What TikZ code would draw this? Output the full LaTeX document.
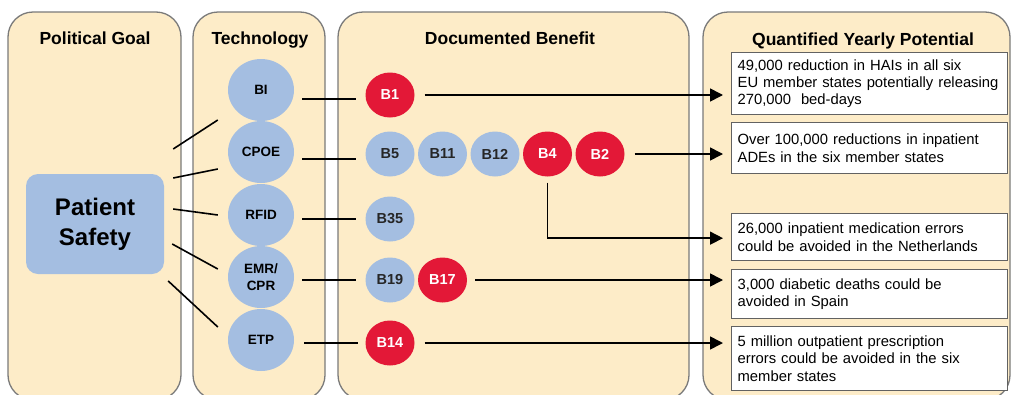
\documentclass[tikz,border=0pt]{standalone}
\usepackage{fontspec}
\setmainfont{Liberation Sans}
\usetikzlibrary{shapes.geometric,arrows.meta,calc}

\definecolor{panelbeige}{HTML}{FDECC8}
\definecolor{techblue}{HTML}{A4BEE1}
\definecolor{benefitred}{HTML}{E31837}
\definecolor{panelgray}{HTML}{7A7A7A}

\begin{document}
\begin{tikzpicture}[x = 1pt, y = -1pt,
		panel/.style = {draw = panelgray, line width = 1.3pt, fill = panelbeige, rounded corners = 25pt},
		paneltitle/.style = {anchor = base, font = \fontsize{17.5}{20}\selectfont\bfseries},
		goalbox/.style = {fill = techblue, rounded corners = 12pt, minimum width = 138pt, minimum height = 100pt, align = center, font = \fontsize{24}{30}\selectfont\bfseries},
		techcircle/.style = {ellipse, fill = techblue, minimum width = 66pt, minimum height = 62pt, inner sep = 0pt, align = center, font = \fontsize{13.5}{17}\selectfont\bfseries},
		bluebenefit/.style = {ellipse, fill = techblue, text = black!85, minimum width = 49pt, minimum height = 45pt, inner sep = 0pt, font = \fontsize{14.5}{16}\selectfont\bfseries},
		redbenefit/.style = {bluebenefit, fill = benefitred, text = white},
		potential/.style = {draw = panelgray!80!black, line width = 1.3pt, fill = white, anchor = north west, text width = 264pt, inner xsep = 6pt, inner ysep = 0pt, align = left, font = \fontsize{14.8}{17.3}\selectfont},
		link/.style = {line width = 1.6pt},
		arrow/.style = {link, -{Triangle[length = 13pt, width = 13pt]}}
	]
			\useasboundingbox (0,0) rectangle (1012,394);
			\clip (0,0) rectangle (1012,394);
			% columnes
			\draw[panel] (8,12) rectangle (181,400);
			\draw[panel] (193,12) rectangle (325,400);
			\draw[panel] (338,12) rectangle (689,400);
			\draw[panel] (703,12) rectangle (1010,400);
			\node[paneltitle] (goaltitle) at (95,44) {Political Goal};
			\node[paneltitle] (techtitle) at (260,44) {Technology};
			\node[paneltitle] (benefittitle) at (510,44) {Documented Benefit};
			\node[paneltitle] (potentialtitle) at (863,45) {Quantified Yearly Potential};
			% goal
			\node[goalbox] (ps) at (95,224) {Patient\\Safety};
			% technology
			\node[techcircle] (bi) at (261,90) {BI};
			\node[techcircle] (cpoe) at (261,152) {CPOE};
			\node[techcircle] (rfid) at (261,215) {RFID};
			\node[techcircle] (emr) at (261,277) {EMR/\\CPR};
			\node[techcircle] (etp) at (261,340) {ETP};
			% benefits
			\node[redbenefit] (b1) at (390,95) {B1};
			\node[bluebenefit] (b5) at (390,154) {B5};
			\node[bluebenefit] (b11) at (442.5,154) {B11};
			\node[bluebenefit] (b12) at (495,154) {B12};
			\node[redbenefit] (b4) at (547.5,154) {B4};
			\node[redbenefit] (b2) at (600,154) {B2};
			\node[bluebenefit] (b35) at (390,219) {B35};
			\node[bluebenefit] (b19) at (390,280) {B19};
			\node[redbenefit] (b17) at (442.5,280) {B17};
			\node[redbenefit] (b14) at (390,343) {B14};
			% potential
			\node[potential, minimum height = 62pt] (q1) at (731,52) {49,000 reduction in HAIs in all six\\EU member states potentially releasing\\270,000~~bed-days};
			\node[potential, minimum height = 51pt] (q2) at (731,122) {Over 100,000 reductions in inpatient\\ADEs in the six member states};
			\node[potential, minimum height = 47pt] (q3) at (731,213) {26,000 inpatient medication errors\\could be avoided in the Netherlands};
			\node[potential, minimum height = 49pt] (q4) at (731,269) {3,000 diabetic deaths could be\\avoided in Spain};
			\node[potential, minimum height = 64pt] (q5) at (731,326) {5 million outpatient prescription\\errors could be avoided in the six\\member states};
			% goal a technology
			\draw[link] ($(ps.east)+(9,-75)$) -- ($(bi.west)+(-10,30)$);
			\draw[link] ($(ps.east)+(9,-46)$) -- ($(cpoe.west)+(-10,17)$);
			\draw[link] ($(ps.east)+(9,-15)$) -- ($(rfid.west)+(-10,0)$);
			\draw[link] ($(ps.east)+(8,20)$) -- ($(emr.west)+(-10,-8)$);
			\draw[link] ($(ps.east)+(4,57)$) -- ($(etp.west)+(-10,-13)$);
			% technology a benefit
			\draw[link] ($(bi.east |- b1)+(8,4)$) -- ($(b1.west)+(-9,4)$);
			\draw[link] ($(cpoe.east |- b5)+(8,5)$) -- ($(b5.west)+(-9,5)$);
			\draw[link] ($(rfid.east |- b35)+(8,0)$) -- ($(b35.west)+(-9,0)$);
			\draw[link] ($(emr.east |- b19)+(8,0)$) -- ($(b19.west)+(-9,0)$);
			\draw[link] ($(etp.east |- b14)+(10,0)$) -- ($(b14.west)+(-7,0)$);
			% benefit a potential
			\draw[arrow] ($(b1.east)+(10,0)$) -- ($(q1.west |- b1)+(-8,0)$);
			\draw[arrow] ($(b2.east)+(10,0)$) -- ($(q2.west |- b2)+(-8,0)$);
			\draw[arrow] ($(b4.south)+(0,6)$) |- ($(q3.west)+(-8,1)$);
			\draw[arrow] ($(b17.east)+(8,0)$) -- ($(q4.west |- b17)+(-8,0)$);
			\draw[arrow] ($(b14.east)+(10,0)$) -- ($(q5.west |- b14)+(-8,0)$);
\end{tikzpicture}
\end{document}
